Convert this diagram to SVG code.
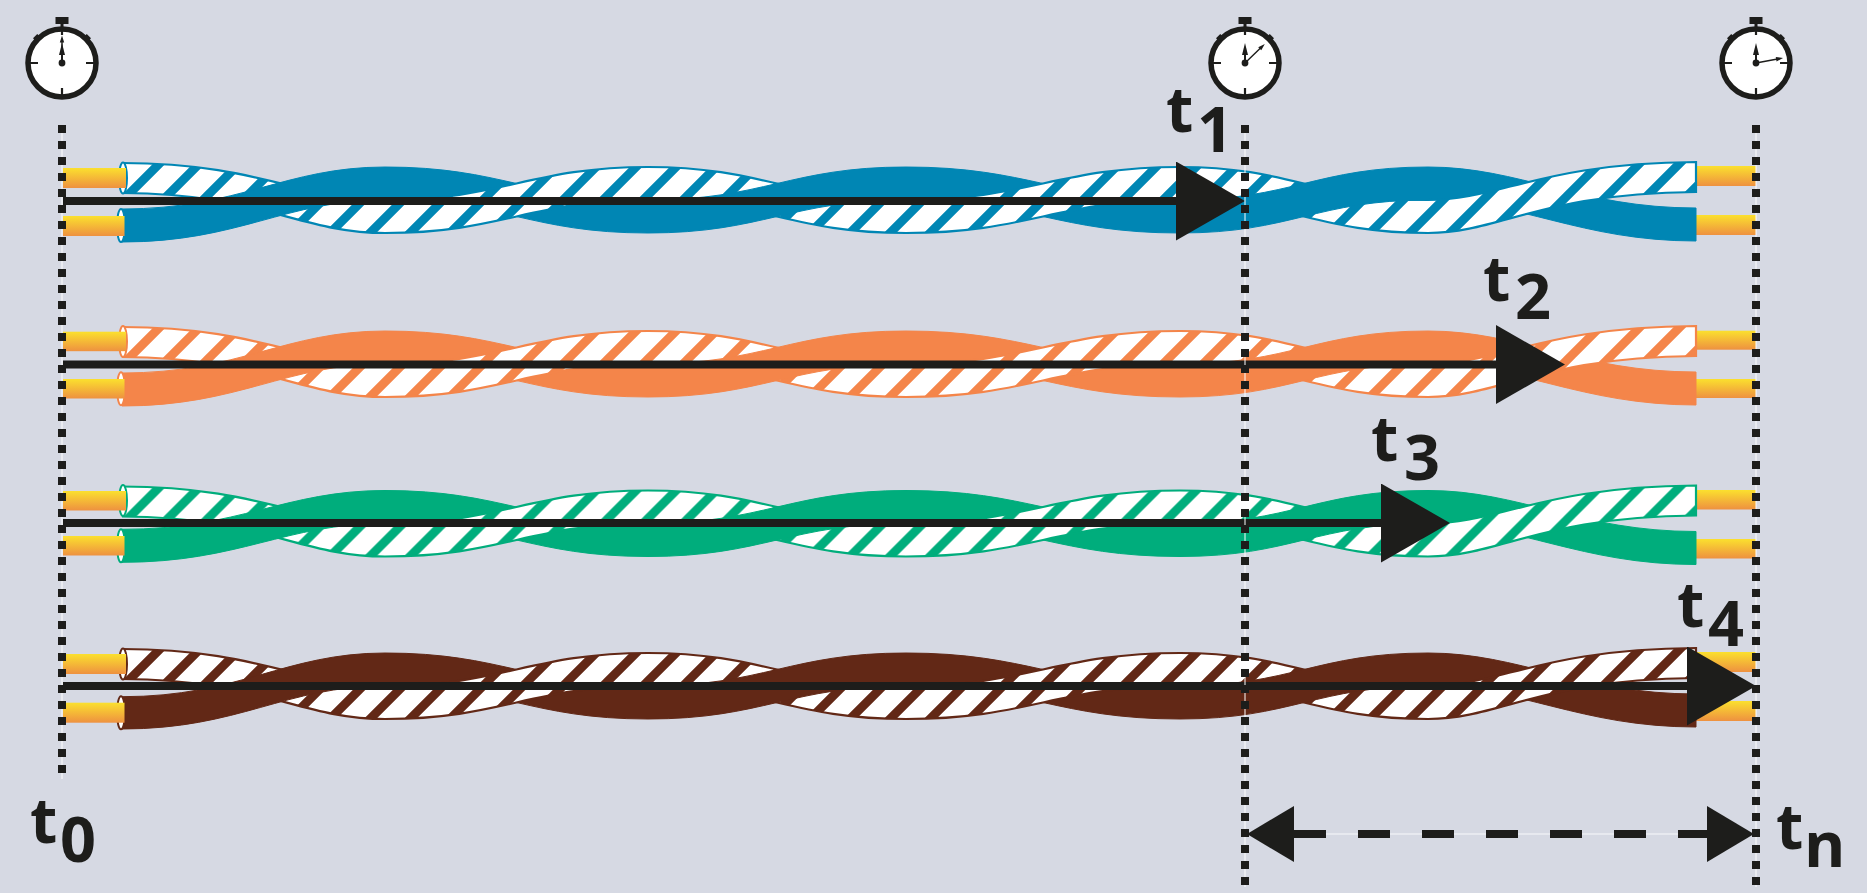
<svg xmlns="http://www.w3.org/2000/svg" xmlns:xlink="http://www.w3.org/1999/xlink" width="1867" height="893" viewBox="0 0 1867 893">
<style>
.lbl{font-family:"Open Sans","Noto Sans","DejaVu Sans",sans-serif;font-weight:700;font-size:63px;fill:#1d1d1b}
.dot{stroke:#1d1d1b;stroke-width:8;stroke-dasharray:8 8;fill:none}
.hair{stroke:#fff;stroke-width:1;fill:none}
.shaft{stroke:#1d1d1b;stroke-width:8;fill:none}
.blk{fill:#1d1d1b}
.edge{fill:none;stroke-width:2.2}
.body{stroke:none}
.tick{stroke:#1d1d1b;stroke-width:2.2;fill:none}
.cu{fill:url(#cu);stroke:none}
.end{fill:#fff;stroke-width:2}
</style>
<defs>
<linearGradient id="cu" x1="0" y1="0" x2="0" y2="1"><stop offset="0" stop-color="#fbe02e"/><stop offset="1" stop-color="#ee9140"/></linearGradient>
<pattern id="s1" width="40" height="40" patternUnits="userSpaceOnUse" patternTransform="translate(3,0)"><rect width="40" height="40" fill="#fff"/><path d="M-10,10L10,-10M-10,50L50,-10M30,50L50,30" stroke="#0086b4" stroke-width="8.8"/></pattern>
<pattern id="s2" width="40" height="40" patternUnits="userSpaceOnUse" patternTransform="translate(3,0)"><rect width="40" height="40" fill="#fff"/><path d="M-10,10L10,-10M-10,50L50,-10M30,50L50,30" stroke="#f4854a" stroke-width="8.8"/></pattern>
<pattern id="s3" width="40" height="40" patternUnits="userSpaceOnUse" patternTransform="translate(3,0)"><rect width="40" height="40" fill="#fff"/><path d="M-10,10L10,-10M-10,50L50,-10M30,50L50,30" stroke="#00ad7c" stroke-width="8.8"/></pattern>
<pattern id="s4" width="40" height="40" patternUnits="userSpaceOnUse" patternTransform="translate(3,0)"><rect width="40" height="40" fill="#fff"/><path d="M-10,10L10,-10M-10,50L50,-10M30,50L50,30" stroke="#622816" stroke-width="8.8"/></pattern>
<marker id="head" viewBox="0 0 69 79" refX="0" refY="39.5" markerWidth="69" markerHeight="79" markerUnits="userSpaceOnUse" orient="auto"><path d="M0,0L69,39.5L0,79Z" fill="#1d1d1b"/></marker>
<marker id="dimhead" viewBox="0 0 47 56" refX="0" refY="28" markerWidth="47" markerHeight="56" markerUnits="userSpaceOnUse" orient="auto-start-reverse"><path d="M0,0L47,28L0,56Z" fill="#1d1d1b"/></marker>
<g id="wf">
<path class="body" d="M122,163C260,163 300,200 385,200L385,233C300,233 260,193 122,193Z"/>
<path class="edge" d="M122,163C260,163 300,200 385,200M385,233C300,233 260,193 122,193"/>
<path class="body" d="M648,167C764,167 790,200 906,200L906,233C790,233 764,200 648,200Z"/>
<path class="edge" d="M648,167C764,167 790,200 906,200M906,233C790,233 764,200 648,200"/>
<path class="body" d="M1180,167C1292,167 1316,200 1428,200L1428,233C1316,233 1292,200 1180,200Z"/>
<path class="edge" d="M1180,167C1292,167 1316,200 1428,200M1428,233C1316,233 1292,200 1180,200"/>
</g>
<g id="wr">
<path class="body" d="M385,200C503,200 530,167 648,167L648,200C530,200 503,233 385,233Z"/>
<path class="edge" d="M385,200C503,200 530,167 648,167M648,200C530,200 503,233 385,233"/>
<path class="body" d="M906,200C1029,200 1057,167 1180,167L1180,200C1057,200 1029,233 906,233Z"/>
<path class="edge" d="M906,200C1029,200 1057,167 1180,167M1180,200C1057,200 1029,233 906,233"/>
<path class="body" d="M1428,200C1500,200 1540,163 1696,162L1696,192C1540,193 1500,233 1428,233Z"/>
<path class="edge" d="M1428,200C1500,200 1540,163 1696,162L1696,192C1540,193 1500,233 1428,233"/>
</g>
<g id="sf">
<path d="M385,167C503,167 530,200 648,200L648,233C530,233 503,200 385,200Z"/>
<path d="M906,167C1029,167 1057,200 1180,200L1180,233C1057,233 1029,200 906,200Z"/>
<path d="M1428,167C1520,167 1580,208 1696,208L1696,241C1580,241 1520,200 1428,200Z"/>
</g>
<path id="srl" d="M122,209C240,209 285,167 385,167L385,200C285,200 240,242 122,242Z"/>
<g id="sr">
<path d="M648,200C764,200 790,167 906,167L906,200C790,200 764,233 648,233Z"/>
<path d="M1180,200C1292,200 1316,167 1428,167L1428,200C1316,200 1292,233 1180,233Z"/>
</g>
<g id="clockface">
<rect x="-6.5" y="-46" width="13" height="7" class="blk"/>
<rect x="-1.5" y="-40" width="3" height="8" class="blk"/>
<rect x="-3" y="-38" width="6" height="5" class="blk" transform="rotate(-45)"/>
<rect x="-3" y="-38" width="6" height="5" class="blk" transform="rotate(45)"/>
<circle r="34" fill="#fff" stroke="#1d1d1b" stroke-width="5.5"/>
<path class="tick" d="M0,-34V-28M0,34V25M-34,0H-24M34,0H24"/>
<path class="blk" d="M0,-20L3,-8H1V0H-1V-8H-3Z"/>
<circle r="3.4" class="blk"/>
</g>
<path id="hand" class="blk" d="M0,-27.5L2.2,-20.5H.7V0H-.7V-20.5H-2.2Z"/>
</defs>
<rect id="background" width="1867" height="893" fill="#d6d9e3"/>

<g id="cable-blue" fill="#0086b4" stroke="#0086b4">
<rect class="cu" x="1696" y="166" width="60" height="20"/>
<rect class="cu" x="1696" y="215" width="60" height="20"/>
<g fill="url(#s1)"><use href="#wf"/></g>
<use href="#sf"/>
<use href="#srl"/><use href="#sr"/>
<g fill="url(#s1)"><use href="#wr"/></g>
<ellipse class="end" cx="123" cy="178" rx="4" ry="15.5"/>
<ellipse class="end" cx="121" cy="225.5" rx="4" ry="16.5"/>
<rect class="cu" x="63" y="168" width="63" height="20"/>
<rect class="cu" x="63" y="216" width="61.5" height="20"/>
</g>
<g id="cable-orange" transform="translate(0,164)" fill="#f4854a" stroke="#f4854a">
<rect class="cu" x="1696" y="166.7" width="60" height="19"/>
<rect class="cu" x="1696" y="215" width="60" height="19"/>
<g fill="url(#s2)"><use href="#wf"/></g>
<use href="#sf"/>
<use href="#srl"/><use href="#sr"/>
<g fill="url(#s2)"><use href="#wr"/></g>
<ellipse class="end" cx="123" cy="177.5" rx="4" ry="15.5"/>
<ellipse class="end" cx="121" cy="224.7" rx="4" ry="16.5"/>
<rect class="cu" x="63" y="167.7" width="63" height="19.5"/>
<rect class="cu" x="63" y="215" width="61.5" height="19.5"/>
</g>
<g id="cable-green" transform="translate(0,323.5)" fill="#00ad7c" stroke="#00ad7c">
<rect class="cu" x="1696" y="166.5" width="60" height="19.5"/>
<rect class="cu" x="1696" y="215.5" width="60" height="19.5"/>
<g fill="url(#s3)"><use href="#wf"/></g>
<use href="#sf"/>
<path d="M122,205.8C240,205.8 285,167 385,167L385,200C285,200 240,238.8 122,238.8Z"/><use href="#sr"/>
<g fill="url(#s3)"><use href="#wr"/></g>
<ellipse class="end" cx="123" cy="177" rx="4" ry="15.5"/>
<ellipse class="end" cx="121" cy="222.3" rx="4" ry="16.5"/>
<rect class="cu" x="63" y="167.5" width="63" height="19.5"/>
<rect class="cu" x="63" y="212.5" width="61.5" height="19.5"/>
</g>
<g id="cable-brown" transform="translate(0,486)" fill="#622816" stroke="#622816">
<rect class="cu" x="1696" y="166" width="60" height="20"/>
<rect class="cu" x="1696" y="215" width="60" height="20"/>
<g fill="url(#s4)"><use href="#wf"/></g>
<use href="#sf"/>
<path d="M122,210.7C240,210.7 285,167 385,167L385,200C285,200 240,243 122,243Z"/><use href="#sr"/>
<g fill="url(#s4)"><use href="#wr"/></g>
<ellipse class="end" cx="123" cy="178" rx="4" ry="15.5"/>
<ellipse class="end" cx="121" cy="226.8" rx="4" ry="16.5"/>
<rect class="cu" x="63" y="168" width="63" height="20"/>
<rect class="cu" x="63" y="216.7" width="61.5" height="20"/>
</g>

<g id="connectors">
<line class="shaft" x1="63" y1="201" x2="1176" y2="201" marker-end="url(#head)"/>
<line class="shaft" x1="63" y1="364.5" x2="1496" y2="364.5" marker-end="url(#head)"/>
<line class="shaft" x1="63" y1="523" x2="1381" y2="523" marker-end="url(#head)"/>
<line class="shaft" x1="63" y1="686" x2="1687" y2="686" marker-end="url(#head)"/>
<line x1="1294" y1="834" x2="1707" y2="834" stroke="#eceef3" stroke-width="1.5"/>
<line x1="1294" y1="834" x2="1707" y2="834" stroke="#1d1d1b" stroke-width="8" stroke-dasharray="32 32" marker-start="url(#dimhead)" marker-end="url(#dimhead)"/>
<line class="hair" x1="62" y1="125" x2="62" y2="779"/>
<line class="dot" x1="62" y1="125" x2="62" y2="773"/>
<line class="hair" x1="1245" y1="125" x2="1245" y2="887"/>
<line class="dot" x1="1245" y1="125" x2="1245" y2="885"/>
<line class="hair" x1="1756" y1="125" x2="1756" y2="887"/>
<line class="dot" x1="1756" y1="125" x2="1756" y2="885"/>
</g>

<g id="clock-0" transform="translate(62,63)"><use href="#clockface"/><use href="#hand"/></g>
<g id="clock-1" transform="translate(1245,63)"><use href="#clockface"/><use href="#hand" transform="rotate(46)"/></g>
<g id="clock-n" transform="translate(1756,63)"><use href="#clockface"/><use href="#hand" transform="rotate(79.5)"/></g>

<g id="label-t0"><text class="lbl" x="30" y="843">t<tspan x="60" y="862">0</tspan></text></g>
<g id="label-t1"><text class="lbl" x="1166" y="132">t<tspan x="1197" y="152">1</tspan></text></g>
<g id="label-t2"><text class="lbl" x="1483" y="301">t<tspan x="1515" y="319">2</tspan></text></g>
<g id="label-t3"><text class="lbl" x="1371" y="461">t<tspan x="1404" y="480">3</tspan></text></g>
<g id="label-t4"><text class="lbl" x="1677" y="627">t<tspan x="1708" y="646">4</tspan></text></g>
<g id="label-tn"><text class="lbl" x="1776" y="849">t<tspan x="1804" y="867">n</tspan></text></g>
</svg>
